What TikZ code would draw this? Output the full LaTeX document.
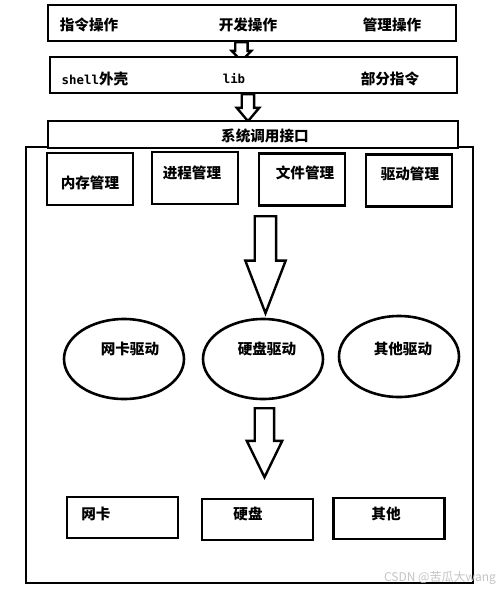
\documentclass[tikz,border=0pt]{standalone}
\usepackage{fontspec}
\setmainfont{Noto Sans CJK SC}
\newfontfamily\monofont{DejaVu Sans Mono}
\usepackage{tikz}
\usetikzlibrary{
  shapes.geometric,
  shapes.arrows,
  positioning
}
\definecolor{wmgray}{HTML}{C4C4C4}

\begin{document}
\begin{tikzpicture}[
  x=0.5pt, y=-0.5pt,
  layerbox/.style={
    rectangle, draw=black, fill=white, line width=1.4pt,
    minimum height=18pt, inner sep=0pt
  },
  modbox/.style={
    rectangle, draw=black, fill=white, line width=1.4pt,
    minimum width=43pt, minimum height=26pt, inner sep=0pt
  },
  devbox/.style={
    rectangle, draw=black, fill=white, line width=1.3pt,
    minimum width=55.5pt, minimum height=20.5pt, inner sep=0pt
  },
  drvnode/.style={
    ellipse, draw=black, fill=white, line width=1.3pt,
    minimum width=60pt, minimum height=40pt, inner sep=0pt
  },
  hollow/.style={
    single arrow, draw=black, fill=white, line width=1.2pt,
    shape border rotate=270, anchor=tail
  },
  lbl/.style={font=\fontsize{7.3}{8}\selectfont\bfseries, inner sep=0pt},
  latin/.style={font=\fontsize{6.2}{8}\selectfont\monofont\bfseries, inner sep=0pt}
]
\useasboundingbox (0,0) rectangle (500,591);

% USER LAYER
\node[layerbox, minimum width=204pt] (ops) at (252, 23) {};
\node[lbl] (opcmd) at (89, 25) {指令操作};
\node[lbl] (opdev) at (248, 25) {开发操作};
\node[lbl] (opmgr) at (392, 25) {管理操作};

\node[hollow, inner sep=2.5pt, minimum height=8pt, single arrow head extend=1.75pt,
  single arrow tip angle=87] (arrA) at (241.5, 41) {};

% LIBRARY LAYER
\node[layerbox, minimum width=203.5pt] (libs) at (253.5, 75) {};
\node[lbl] (shell) at (95, 79) {{\fontsize{6.2}{8}\selectfont\monofont\bfseries shell}外壳};
\node[latin] (lib) at (234, 79) {lib};
\node[lbl] (part) at (390, 79) {部分指令};

\node[hollow, inner sep=2.5pt, minimum height=13.5pt, single arrow head extend=2.5pt,
  single arrow tip angle=80] (arrB) at (248, 93) {};

% KERNEL
\draw[line width=1.3pt] (26, 147) rectangle (473, 583);
\node[layerbox, minimum width=205pt, minimum height=13.5pt] (sys) at (253, 134.5) {};
\node[lbl] (systxt) at (265, 136) {系统调用接口};

\node[modbox] (mem) at (90, 179) {};
\node[lbl] (memtxt) at (90, 183) {内存管理};
\node[modbox] (proc) at (195, 178) {};
\node[lbl] (proctxt) at (192, 173) {进程管理};
\node[modbox] (file) at (302, 179.5) {};
\node[lbl] (filetxt) at (305, 173) {文件管理};
\node[modbox] (drv) at (409, 180.5) {};
\node[lbl] (drvtxt) at (410, 174) {驱动管理};

\node[hollow, inner sep=4.75pt, minimum height=48.5pt, single arrow head extend=4.75pt,
  single arrow tip angle=42] (arrC) at (265.5, 215) {};

% DRIVERS
\node[drvnode] (nicdrv) at (124, 359) {};
\node[lbl] (nicdrvtxt) at (130, 349) {网卡驱动};
\node[drvnode] (diskdrv) at (263, 359) {};
\node[lbl] (diskdrvtxt) at (267, 349) {硬盘驱动};
\node[drvnode, minimum height=40.5pt] (otherdrv) at (399, 356.5) {};
\node[lbl] (otherdrvtxt) at (403, 349) {其他驱动};

\node[hollow, inner sep=4.25pt, minimum height=34.5pt, single arrow head extend=4pt,
  single arrow tip angle=52] (arrD) at (264.5, 407) {};

% HARDWARE
\node[devbox] (nic) at (122.5, 517.5) {};
\node[lbl] (nictxt) at (96, 514) {网卡};
\node[devbox] (disk) at (257.5, 519.5) {};
\node[lbl] (disktxt) at (248, 514) {硬盘};
\node[devbox] (other) at (389, 518.5) {};
\node[lbl] (othertxt) at (386, 514) {其他};

\node[font=\fontsize{6}{7}\selectfont, text=wmgray, inner sep=0pt] (mark) at (440, 578) {CSDN @苦瓜大wang};

\end{tikzpicture}
\end{document}
